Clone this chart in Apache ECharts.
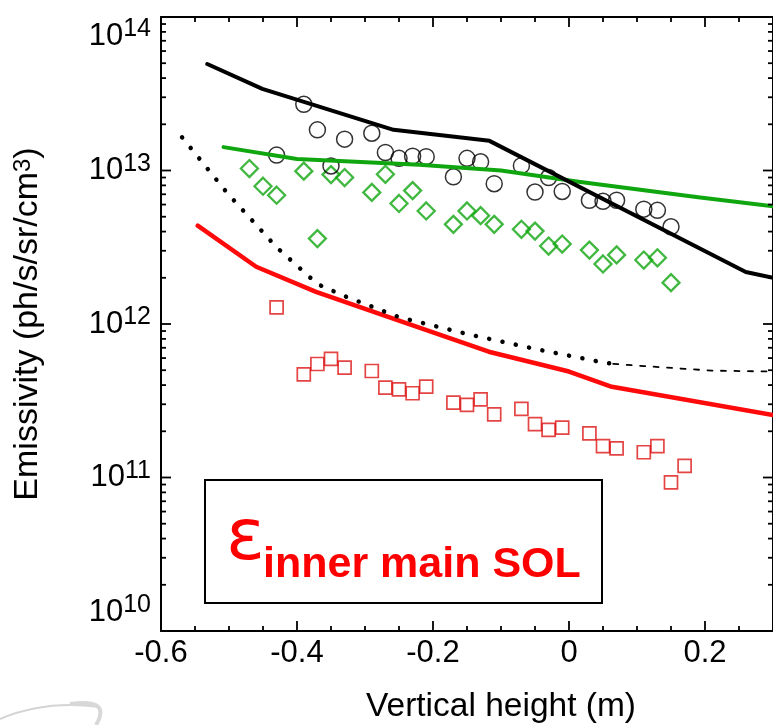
<!DOCTYPE html>
<html>
<head>
<meta charset="utf-8">
<script src="https://cdn.jsdelivr.net/npm/echarts@6/dist/echarts.min.js"></script>
<style>
  html, body { margin: 0; padding: 0; background: #fff; }
  #chart { width: 773px; height: 725px; }
</style>
</head>
<body>
<div id="chart"></div>
<script>
// Axis ticks
const xMajorTicks = [-0.6, -0.4, -0.2, 0, 0.2];
const xMinorTicks = [-0.55, -0.5, -0.45, -0.35, -0.3, -0.25, -0.15, -0.1, -0.05, 0.05, 0.1, 0.15, 0.25];
const yDecades = [1e10, 1e11, 1e12, 1e13, 1e14];
const yMantissas = [2, 3, 4, 5, 6, 7, 8, 9];

// Measured emissivity: black circles
const circleX = [-0.43, -0.39, -0.37, -0.35, -0.33, -0.29, -0.27, -0.25, -0.23, -0.21, -0.17, -0.15,
                 -0.13, -0.11, -0.07, -0.05, -0.03, -0.01, 0.03, 0.05, 0.07, 0.11, 0.13, 0.15];
const circleY = [1.26e13, 2.70e13, 1.84e13, 1.07e13, 1.60e13, 1.75e13, 1.31e13, 1.20e13, 1.24e13, 1.23e13, 9.1e12, 1.20e13,
                 1.14e13, 8.2e12, 1.075e13, 7.24e12, 9.0e12, 7.3e12, 6.4e12, 6.3e12, 6.4e12, 5.6e12, 5.5e12, 4.3e12];

// Measured emissivity: green diamonds
const diamondX = [-0.47, -0.45, -0.43, -0.39, -0.37, -0.35, -0.33, -0.29, -0.27, -0.25, -0.23, -0.21, -0.17,
                  -0.15, -0.13, -0.11, -0.07, -0.05, -0.03, -0.01, 0.03, 0.05, 0.07, 0.11, 0.13, 0.15];
const diamondY = [1.03e13, 7.9e12, 6.9e12, 9.9e12, 3.6e12, 9.4e12, 9.0e12, 7.2e12, 9.45e12, 6.1e12, 7.4e12, 5.45e12, 4.46e12,
                  5.45e12, 5.08e12, 4.46e12, 4.14e12, 4.03e12, 3.22e12, 3.32e12, 3.03e12, 2.46e12, 2.82e12, 2.61e12, 2.70e12, 1.86e12];

// Measured emissivity: red squares
const squareX = [-0.43, -0.39, -0.37, -0.35, -0.33, -0.29, -0.27, -0.25, -0.23, -0.21, -0.17, -0.15, -0.13,
                 -0.11, -0.07, -0.05, -0.03, -0.01, 0.03, 0.05, 0.07, 0.11, 0.13, 0.15, 0.17];
const squareY = [1.285e12, 4.70e11, 5.49e11, 5.92e11, 5.19e11, 4.94e11, 3.85e11, 3.75e11, 3.54e11, 3.91e11, 3.07e11, 2.97e11, 3.23e11,
                 2.58e11, 2.80e11, 2.23e11, 2.04e11, 2.11e11, 1.94e11, 1.60e11, 1.55e11, 1.46e11, 1.60e11, 0.93e11, 1.19e11];

// Modelled profiles
const blackModelX = [-0.532, -0.451, -0.258, -0.117, 0.26, 0.30];
const blackModelY = [4.94e13, 3.40e13, 1.84e13, 1.56e13, 2.18e12, 2.0e12];

const greenModelX = [-0.508, -0.40, -0.22, -0.10, 0.014, 0.19, 0.30];
const greenModelY = [1.42e13, 1.19e13, 1.09e13, 1.0e13, 8.45e12, 6.7e12, 5.85e12];

const redModelX = [-0.546, -0.46, -0.372, -0.25, -0.118, 0.0, 0.063, 0.30];
const redModelY = [4.37e12, 2.36e12, 1.62e12, 1.05e12, 6.6e11, 4.9e11, 3.9e11, 2.55e11];

const dottedModelX = [-0.569, -0.503, -0.43, -0.37, -0.33, -0.249, -0.15, -0.051, 0.049, 0.065];
const dottedModelY = [1.645e13, 7.17e12, 3.16e12, 1.82e12, 1.52e12, 1.105e12, 8.61e11, 6.90e11, 5.63e11, 5.5e11];

const dashedModelX = [0.065, 0.11, 0.21, 0.30];
const dashedModelY = [5.5e11, 5.32e11, 4.97e11, 4.9e11];

const pairs = (xs, ys) => xs.map((x, i) => [x, ys[i]]);

const yMinorTicks = [];
yDecades.slice(0, -1).forEach(d => yMantissas.forEach(m => yMinorTicks.push(m * d)));

const FONT = 'Liberation Sans, Arial, sans-serif';
const BLACK = '#000';
const GREEN = '#10a610';
const RED = '#ff0a0a';
const RED_MARK = '#dd1515';
const X_MIN = -0.6, X_MAX = 0.3, Y_MIN = 1e10, Y_MAX = 1e14;

function xAxisDef(position, withLabels) {
  return {
    type: 'value', position: position, min: X_MIN, max: X_MAX, interval: 0.2,
    axisLine: { show: true, onZero: false, lineStyle: { color: BLACK, width: 2 } },
    axisTick: { show: false },
    axisLabel: withLabels ? {
      show: true, customValues: xMajorTicks, margin: 7, color: BLACK, fontSize: 31, fontFamily: FONT,
      formatter: v => String(+(+v).toFixed(1))
    } : { show: false },
    splitLine: { show: false }
  };
}

function yAxisDef(position, withLabels) {
  const def = {
    type: 'log', logBase: 10, position: position, min: Y_MIN, max: Y_MAX,
    axisLine: { show: true, onZero: false, lineStyle: { color: BLACK, width: 2 } },
    axisTick: { show: false },
    axisLabel: { show: false },
    splitLine: { show: false }
  };
  if (withLabels) {
    def.axisLabel = {
      show: true, customValues: yDecades, margin: 10, color: BLACK,
      verticalAlignMinLabel: 'bottom', verticalAlignMaxLabel: 'top',
      formatter: v => '{b|10}{s|' + Math.round(Math.log10(v)) + '}',
      rich: {
        b: { fontSize: 31, fontFamily: FONT, color: BLACK, lineHeight: 38 },
        s: { fontSize: 25, fontFamily: FONT, color: BLACK, verticalAlign: 'top', lineHeight: 22 }
      }
    };
    def.name = 'Emissivity (ph/s/sr/cm{sup|3})';
    def.nameLocation = 'middle';
    def.nameGap = 116;
    def.nameTextStyle = {
      fontSize: 34, fontFamily: FONT, color: BLACK,
      rich: { sup: { fontSize: 24, fontFamily: FONT, color: BLACK, verticalAlign: 'top', lineHeight: 26 } }
    };
  }
  return def;
}

function lineSeries(xs, ys, color, width, type) {
  return {
    type: 'line', data: pairs(xs, ys), showSymbol: false, symbol: 'none', smooth: false,
    lineStyle: { color: color, width: width, type: type || 'solid', cap: 'round', join: 'round' },
    emphasis: { disabled: true }, z: 3
  };
}

// Inward tick marks on all four sides, placed through the axis scales
function tickSeries(values, dim, len) {
  const data = dim === 'y' ? values.map(v => [X_MIN, v]) : values.map(v => [v, Y_MIN]);
  return {
    type: 'custom', silent: true, clip: false, z: 6,
    data: data,
    encode: { x: 0, y: 1 },
    renderItem: (params, api) => {
      const cs = params.coordSys;
      const p = api.coord([api.value(0), api.value(1)]);
      const style = { stroke: BLACK, lineWidth: 1.8, fill: null };
      if (dim === 'y') {
        return {
          type: 'group', children: [
            { type: 'line', shape: { x1: cs.x, y1: p[1], x2: cs.x + len, y2: p[1] }, style: style },
            { type: 'line', shape: { x1: cs.x + cs.width - len, y1: p[1], x2: cs.x + cs.width, y2: p[1] }, style: style }
          ]
        };
      }
      return {
        type: 'group', children: [
          { type: 'line', shape: { x1: p[0], y1: cs.y + cs.height, x2: p[0], y2: cs.y + cs.height - len }, style: style },
          { type: 'line', shape: { x1: p[0], y1: cs.y, x2: p[0], y2: cs.y + len }, style: style }
        ]
      };
    }
  };
}

const chart = echarts.init(document.getElementById('chart'), null, { renderer: 'canvas' });

chart.setOption({
  backgroundColor: '#fff',
  animation: false,
  grid: { left: 161, top: 17, width: 614, height: 614, containLabel: false },
  xAxis: [ xAxisDef('bottom', true), xAxisDef('top', false) ],
  yAxis: [ yAxisDef('left', true), yAxisDef('right', false) ],
  series: [
    tickSeries(yDecades, 'y', 10),
    tickSeries(yMinorTicks, 'y', 5),
    tickSeries(xMajorTicks, 'x', 10),
    tickSeries(xMinorTicks, 'x', 5),
    {
      type: 'scatter', data: pairs(squareX, squareY), symbol: 'rect', symbolSize: 13,
      itemStyle: { color: 'rgba(0,0,0,0)', borderColor: RED_MARK, borderWidth: 1.7 }, z: 2
    },
    {
      type: 'scatter', data: pairs(diamondX, diamondY), symbol: 'diamond', symbolSize: 17,
      itemStyle: { color: 'rgba(0,0,0,0)', borderColor: GREEN, borderWidth: 2.3 }, z: 2
    },
    {
      type: 'scatter', data: pairs(circleX, circleY), symbol: 'circle', symbolSize: 16,
      itemStyle: { color: 'rgba(0,0,0,0)', borderColor: BLACK, borderWidth: 1.5 }, z: 2
    },
    lineSeries(greenModelX, greenModelY, GREEN, 4),
    lineSeries(redModelX, redModelY, RED, 4.5),
    lineSeries(blackModelX, blackModelY, BLACK, 4),
    lineSeries(dottedModelX, dottedModelY, BLACK, 4.5, [0.1, 13.5]),
    lineSeries(dashedModelX, dashedModelY, BLACK, 1.8, [5, 8.5])
  ],
  graphic: [
    {
      type: 'rect', shape: { x: 205, y: 480, width: 397, height: 123 },
      style: { fill: 'none', stroke: BLACK, lineWidth: 2 }, z: 10
    },
    {
      type: 'text', x: 226, y: 540, z: 11,
      style: { text: 'ε', fill: '#ff0000', font: '72px "DejaVu Sans", sans-serif', align: 'left', verticalAlign: 'middle' }
    },
    {
      type: 'text', x: 263, y: 565, z: 11,
      style: { text: 'inner main SOL', fill: '#ff0000', font: 'bold 43px "Liberation Sans", Arial, sans-serif', align: 'left', verticalAlign: 'middle' }
    },
    {
      type: 'text', x: 501, y: 707, z: 11,
      style: { text: 'Vertical height (m)', fill: BLACK, font: '33.5px "Liberation Sans", Arial, sans-serif', align: 'center', verticalAlign: 'middle' }
    },
    {
      type: 'bezierCurve', z: 1,
      shape: { x1: 0, y1: 719, cpx1: 45, cpy1: 700, x2: 100, y2: 707 },
      style: { stroke: '#d4d4d4', lineWidth: 2, fill: null }
    },
    {
      type: 'bezierCurve', z: 1,
      shape: { x1: 70, y1: 704, cpx1: 112, cpy1: 698, x2: 96, y2: 725 },
      style: { stroke: '#d8d8d8', lineWidth: 4, fill: null }
    }
  ]
});
</script>
</body>
</html>
